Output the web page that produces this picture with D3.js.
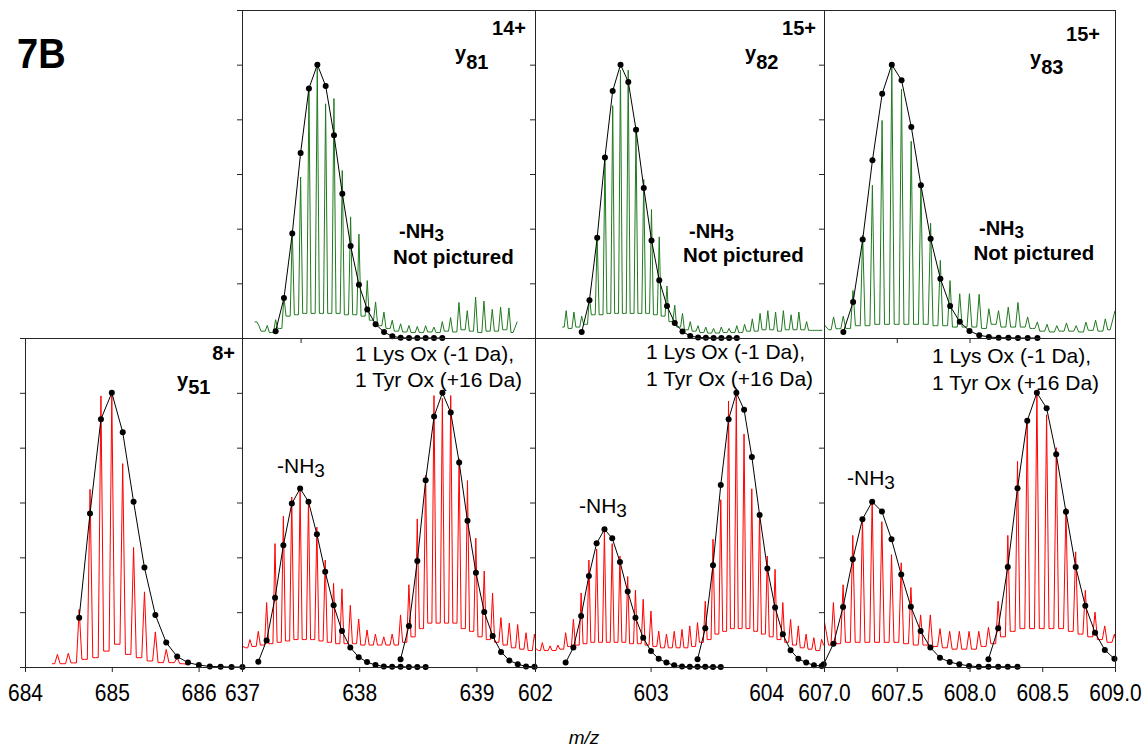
<!DOCTYPE html>
<html>
<head>
<meta charset="utf-8">
<script src="https://cdn.jsdelivr.net/npm/d3@7"></script>
<style>
  body { margin: 0; background: #fff; }
  svg { display: block; }
  text { font-family: "Liberation Sans", Arial, sans-serif; }
</style>
</head>
<body>
<svg id="chart" width="1145" height="750"></svg>
<script>
// Intensities are % of the most abundant isotope peak.
// Envelopes: theoretical isotope distributions (black dots).
// Traces: measured profile spectra, sampled at half the isotope spacing
// (alternating isotope-peak apex and inter-peak valley).

// ---- y51 8+ ----
const y51EnvMz = [684.624, 684.749, 684.875, 685.000, 685.126, 685.251, 685.376, 685.502, 685.627, 685.753, 685.878, 686.003, 686.129, 686.254, 686.380, 686.505];
const y51EnvInt = [18.0, 56.0, 90.4, 100, 85.6, 60.3, 36.3, 19.0, 8.9, 3.8, 1.6, 0.7, 0.2, 0.1, 0, 0];
const y51TraceStart = 684.3105, y51TraceStep = 0.0627;
const y51TraceInt = [1.2, 4.6, 1.2, 5.0, 1.5, 21, 2.8, 64.8, 3.4, 98.9, 5.8, 99, 8.3, 74.2, 4.6, 43.6, 3.4, 27.4, 2.2, 12.8, 1.6, 6.4, 1.6, 3.4, 1.2, 1.0];

// ---- y81 14+ ----
const y81EnvMz = [637.287, 637.358, 637.429, 637.500, 637.571, 637.643, 637.714, 637.785, 637.856, 637.927, 637.998, 638.069, 638.140, 638.212, 638.283, 638.354, 638.425, 638.496, 638.567, 638.638, 638.709];
const y81EnvInt = [2.5, 14.6, 38.2, 67.7, 91.3, 100, 92.2, 74.2, 52.8, 33.7, 19.5, 10.4, 5.0, 2.2, 0.6, 0.1, 0, 0, 0, 0, 0];
const y81TraceStart = 637.109, y81TraceStep = 0.03555;
const y81TraceInt = [5.9, 4.5, 2.5, 4.6, 2.0, 6.7, 3.5, 15, 8, 39.4, 8.5, 58.9, 9, 90.6, 9, 99.5, 9, 85.7, 9, 87.6, 9, 61.3, 8.5, 44.3, 8.5, 38, 8, 21, 6.5, 13.2, 4.5, 9.5, 3.5, 6.5, 2.5, 5.2, 2.2, 4.6, 2, 4.2, 2, 4.5, 2.2, 4, 2, 6, 2.5, 7.5, 2.2, 13, 3, 10, 2.5, 15, 2, 13.5, 2.5, 10.5, 2.5, 11.3, 3, 11, 2, 6];

// ---- y82 15+ ----
const y82EnvMz = [602.404, 602.471, 602.538, 602.605, 602.672, 602.740, 602.807, 602.874, 602.941, 603.008, 603.075, 603.142, 603.209, 603.276, 603.343, 603.411, 603.478, 603.545, 603.612, 603.679, 603.746];
const y82EnvInt = [2.2, 13.8, 36.7, 66.0, 90.4, 100, 93.7, 76.2, 54.9, 35.7, 21.1, 11.7, 5.5, 2.4, 0.7, 0.2, 0.1, 0, 0, 0, 0];
const y82TraceStart = 602.236, y82TraceStep = 0.03355;
const y82TraceInt = [4, 10, 3.5, 9.5, 4, 8, 5, 15, 8.5, 37, 8.5, 66, 9, 85, 9, 98, 9, 98, 9, 76, 9, 58, 9, 47, 8.5, 37, 8, 19, 6, 12, 4, 9, 3, 6, 2.5, 4.5, 2, 4, 1.8, 3.5, 1.8, 4, 2, 3.5, 2, 4.5, 2, 5, 2.5, 7, 2.5, 9, 3, 10, 3, 9.5, 2.5, 10, 3, 8.5, 3, 9.5, 3, 6, 2.8, 2.8, 2.8, 2.8];

// ---- y83 15+ ----
const y83EnvMz = [607.133, 607.200, 607.266, 607.333, 607.400, 607.466, 607.533, 607.600, 607.666, 607.733, 607.800, 607.867, 607.933, 608.000, 608.067, 608.133, 608.200, 608.267, 608.333, 608.400, 608.467];
const y83EnvInt = [2.2, 13.2, 36.0, 65.0, 89.4, 100, 94.3, 77.2, 55.9, 36.3, 21.7, 11.7, 5.9, 2.6, 1.0, 0.4, 0.1, 0.1, 0, 0, 0];
const y83TraceStart = 606.999, y83TraceStep = 0.03335;
const y83TraceInt = [5, 3, 7.7, 3.4, 8, 3.5, 17.4, 4.5, 37.6, 4.5, 55.9, 5, 79.6, 5, 99.5, 5, 91, 5, 72, 5, 57, 5, 42, 4.5, 28.4, 4.5, 21, 4, 16.2, 4, 16.2, 4, 16, 3.5, 10.7, 5, 10, 4, 11.3, 4, 13, 4, 7.7, 3.5, 5.9, 2.5, 5, 2.2, 4.5, 2.5, 5.5, 2.5, 4.5, 2.2, 5.8, 2.8, 6.5, 2.5, 7, 3, 10];

// ---- y81 14+, 1 Lys Ox (-1 Da), 1 Tyr Ox (+16 Da), with -NH3 ----
const y81OxNh3EnvMz = [637.139, 637.210, 637.282, 637.353, 637.425, 637.496, 637.567, 637.639, 637.710, 637.782, 637.853, 637.924, 637.996, 638.067, 638.139, 638.210, 638.281, 638.353, 638.424, 638.496, 638.567];
const y81OxNh3EnvInt = [1.9, 9.7, 25.3, 44.4, 59.6, 65.1, 60.3, 48.4, 34.7, 22.5, 13.1, 7.1, 3.6, 1.8, 0.7, 0.2, 0.1, 0.1, 0, 0, 0];
const y81OxEnvMz = [638.353, 638.424, 638.496, 638.567, 638.639, 638.710, 638.781, 638.853, 638.924, 638.996, 639.067, 639.139, 639.210, 639.281, 639.353, 639.424, 639.496];
const y81OxEnvInt = [2.8, 15.0, 38.7, 68.1, 91.4, 100, 92.8, 74.6, 53.3, 34.4, 20.1, 11.3, 5.5, 2.4, 1.0, 0.2, 0.1];
const y81OxTraceStart = 636.996, y81OxTraceStep = 0.0357;
const y81OxTraceInt = [7.7, 7, 10, 7.5, 13, 8, 23.5, 8.5, 45, 9, 55, 9.5, 62, 10, 64, 10, 61, 10, 51, 9.5, 39, 9, 30.5, 8.5, 28.5, 8.5, 22.5, 8.5, 17.5, 8, 13.5, 8, 12, 8, 11, 8, 12, 8, 19, 9, 30, 11, 54, 14, 70, 16, 99, 16, 98, 16, 99, 16, 76, 14, 68, 13, 47, 11, 35, 10, 27, 9, 18, 8, 16, 7, 15.5, 6.5, 12.5, 6, 12, 7];

// ---- y82 15+, oxidised, with -NH3 ----
const y82OxNh3EnvMz = [602.265, 602.332, 602.399, 602.466, 602.533, 602.601, 602.668, 602.735, 602.802, 602.869, 602.936, 603.003, 603.070, 603.137, 603.204, 603.272, 603.339, 603.406, 603.473, 603.540, 603.607];
const y82OxNh3EnvInt = [1.6, 7.1, 18.6, 33.2, 45.1, 50.2, 47.0, 38.3, 27.5, 18.0, 10.7, 5.8, 3.0, 1.6, 0.6, 0.2, 0.1, 0.1, 0.1, 0, 0];
const y82OxEnvMz = [603.406, 603.473, 603.540, 603.607, 603.675, 603.742, 603.809, 603.876, 603.943, 604.010, 604.077, 604.144, 604.211, 604.278, 604.346, 604.413, 604.480];
const y82OxEnvInt = [2.8, 14.1, 37.1, 66.4, 90.4, 100, 93.8, 76.6, 55.4, 35.9, 21.7, 11.9, 6.1, 3.0, 1.6, 0.6, 0.4];
const y82OxTraceStart = 601.9966, y82OxTraceStep = 0.03355;
const y82OxTraceInt = [7, 6, 8.9, 6, 7.7, 6, 8, 6.5, 12.5, 7.5, 17.4, 8, 27, 8.5, 39, 9, 43, 9, 49.6, 9, 45, 9, 40.5, 9, 33, 8.5, 28, 8.5, 24.7, 8, 20.4, 7.5, 13.1, 7, 12, 7, 13, 7, 13.7, 7, 15, 7.5, 16.2, 9, 24, 10, 46.6, 12, 61, 13, 97, 14, 99, 14, 85, 14, 65, 13, 55.7, 12, 40.5, 11, 35.6, 10, 23.5, 9, 17.4, 8, 15, 7, 12, 6.5, 10.7, 6, 10.1, 8];

// ---- y83 15+, oxidised, with -NH3 ----
const y83OxNh3EnvMz = [606.998, 607.065, 607.131, 607.198, 607.264, 607.331, 607.398, 607.464, 607.531, 607.597, 607.664, 607.731, 607.797, 607.864, 607.930, 607.997, 608.064, 608.130, 608.197, 608.263, 608.330];
const y83OxNh3EnvInt = [1.0, 8.5, 21.9, 39.3, 53.9, 60.3, 56.7, 46.6, 33.7, 22.0, 13.1, 7.1, 3.4, 1.8, 1.0, 0.4, 0.1, 0.1, 0.1, 0.1, 0.1];
const y83OxEnvMz = [608.130, 608.197, 608.263, 608.330, 608.397, 608.463, 608.530, 608.596, 608.663, 608.730, 608.796, 608.863, 608.930, 608.996];
const y83OxEnvInt = [2.8, 14.1, 36.5, 65.2, 89.8, 100, 94.4, 77.6, 56.6, 36.5, 22.3, 12.5, 6.2, 3.0];
const y83OxTraceStart = 606.998, y83OxTraceStep = 0.0333;
const y83OxTraceInt = [18, 8, 23.5, 8.5, 30, 9, 48, 9, 54, 9, 61, 9, 53, 9, 41, 9, 38, 8.5, 29, 8, 19, 8, 19, 7.5, 14, 7, 13, 6.5, 13, 6.5, 13, 6.5, 13, 7.5, 14.5, 8.5, 24, 11, 48, 13, 75, 14, 89, 14, 100, 14, 92, 14, 80, 14, 58, 13, 42, 12, 28, 11, 20, 10, 15, 9, 12, 8];

// Axis ticks
const yTickValues = [0, 20, 40, 60, 80, 100, 120];
const y81XTicks = [637.5];
const y82XTicks = [];
const y83XTicks = [607.5, 608.0];
const y51XTicks = [684, 685, 686];
const y81OxXTicks = [637, 638, 639];
const y82OxXTicks = [602, 603, 604];
const y83OxXTicks = [607.0, 607.5, 608.0, 608.5, 609.0];

// ---------------------------------------------------------------
const svg = d3.select('#chart');
const rows = { top: [10, 338], bottom: [338, 667] };
const frameColor = '#262626';
const green = '#1f7a1f', red = '#ff0000';

// trace: [start m/z, sample step, intensities, index of first apex sample]
const panels = [
  { row: 'top', x: [242, 535], domain: [637, 639.5], xTicks: y81XTicks, fmt: null, color: green,
    trace: [y81TraceStart, y81TraceStep, y81TraceInt, 1], envs: [[y81EnvMz, y81EnvInt]] },
  { row: 'top', x: [535, 824], domain: [602, 604.5], xTicks: y82XTicks, fmt: null, color: green,
    trace: [y82TraceStart, y82TraceStep, y82TraceInt, 1], envs: [[y82EnvMz, y82EnvInt]] },
  { row: 'top', x: [824, 1115], domain: [607, 609], xTicks: y83XTicks, fmt: null, color: green,
    trace: [y83TraceStart, y83TraceStep, y83TraceInt, 0], envs: [[y83EnvMz, y83EnvInt]] },
  { row: 'bottom', x: [25, 242], domain: [684, 686.5], xTicks: y51XTicks, fmt: d3.format('d'), color: red,
    trace: [y51TraceStart, y51TraceStep, y51TraceInt, 1], envs: [[y51EnvMz, y51EnvInt]] },
  { row: 'bottom', x: [242, 535], domain: [637, 639.5], xTicks: y81OxXTicks, fmt: d3.format('d'), color: red,
    trace: [y81OxTraceStart, y81OxTraceStep, y81OxTraceInt, 0], envs: [[y81OxNh3EnvMz, y81OxNh3EnvInt], [y81OxEnvMz, y81OxEnvInt]] },
  { row: 'bottom', x: [535, 824], domain: [602, 604.5], xTicks: y82OxXTicks, fmt: d3.format('d'), color: red,
    trace: [y82OxTraceStart, y82OxTraceStep, y82OxTraceInt, 0], envs: [[y82OxNh3EnvMz, y82OxNh3EnvInt], [y82OxEnvMz, y82OxEnvInt]] },
  { row: 'bottom', x: [824, 1115], domain: [607, 609], xTicks: y83OxXTicks, fmt: d3.format('.1f'), color: red,
    trace: [y83OxTraceStart, y83OxTraceStep, y83OxTraceInt, 0], envs: [[y83OxNh3EnvMz, y83OxNh3EnvInt], [y83OxEnvMz, y83OxEnvInt]] }
];

// Profile path: each isotope apex is drawn as a narrow spike whose feet
// (a quarter of the isotope spacing away) sit at the neighbouring valley level.
function profilePoints(start, step, vals, firstPeak) {
  const pts = [];
  vals.forEach((v, j) => {
    const m = start + j * step;
    const isPeak = (j - firstPeak) % 2 === 0;
    if (isPeak && j > 0 && j < vals.length - 1) {
      pts.push([m - step / 2, vals[j - 1]]);
      pts.push([m, v]);
      pts.push([m + step / 2, vals[j + 1]]);
    } else {
      pts.push([m, v]);
    }
  });
  return pts;
}

const defs = svg.append('defs');

panels.forEach((p, i) => {
  const [y0, y1] = rows[p.row];
  const x = d3.scaleLinear().domain(p.domain).range(p.x);
  const y = d3.scaleLinear().domain([0, 120]).range([y1, y0]);
  const g = svg.append('g');

  defs.append('clipPath').attr('id', 'clip' + i)
    .append('rect').attr('x', p.x[0]).attr('y', y0)
    .attr('width', p.x[1] - p.x[0]).attr('height', y1 - y0);

  const line = d3.line().x(d => x(d[0])).y(d => y(d[1]));

  // measured profile
  g.append('path').datum(profilePoints(...p.trace))
    .attr('clip-path', `url(#clip${i})`)
    .attr('fill', 'none').attr('stroke', p.color).attr('stroke-width', 1)
    .attr('stroke-linejoin', 'round')
    .attr('d', line);

  // theoretical isotope envelopes
  p.envs.forEach(([mz, inten]) => {
    const pts = mz.map((m, j) => [m, inten[j]]);
    g.append('path').datum(pts)
      .attr('fill', 'none').attr('stroke', '#000').attr('stroke-width', 1)
      .attr('d', line);
    g.selectAll(null).data(pts).enter().append('circle')
      .attr('cx', d => x(d[0])).attr('cy', d => y(d[1]))
      .attr('r', 3).attr('fill', '#000');
  });

  // frame
  g.append('rect')
    .attr('x', p.x[0] + 0.5).attr('y', y0 + 0.5)
    .attr('width', p.x[1] - p.x[0]).attr('height', y1 - y0)
    .attr('fill', 'none').attr('stroke', frameColor).attr('stroke-width', 1);

  // y axis (unlabelled ticks)
  const ya = g.append('g').attr('transform', `translate(${p.x[0]},0)`)
    .call(d3.axisLeft(y).tickValues(yTickValues).tickSize(5).tickSizeOuter(0).tickFormat(''));
  ya.select('.domain').remove();
  ya.attr('color', frameColor);

  // x axis
  const xa = g.append('g').attr('transform', `translate(0,${y1})`)
    .call(d3.axisBottom(x).tickValues(p.xTicks).tickSize(5).tickSizeOuter(0)
      .tickFormat(p.fmt ? p.fmt : ''));
  xa.select('.domain').remove();
  xa.attr('color', frameColor)
    .attr('font-family', '"Liberation Sans", Arial, sans-serif')
    .attr('font-size', 21);
  xa.selectAll('.tick text')
    .attr('y', null).attr('dy', null)
    .attr('fill', '#000')
    .attr('transform', 'translate(0,34) scale(1,1.17)');
});

// ---------------------------------------------------------------
// Annotations
function rich(x, y, parts, opts) {
  const t = svg.append('text').attr('x', x).attr('y', y)
    .attr('font-size', opts.size).attr('font-weight', opts.weight || 'normal')
    .attr('fill', '#000');
  if (opts.anchor) t.attr('text-anchor', opts.anchor);
  parts.forEach(pt => {
    const s = t.append('tspan').text(pt.t);
    if (pt.dy) s.attr('dy', pt.dy);
    if (pt.size) s.attr('font-size', pt.size);
  });
  return t;
}

svg.append('text').attr('transform', 'translate(17,68) scale(1,1.14)')
  .attr('font-size', 38).attr('font-weight', 'bold').text('7B');

// top row
rich(526, 35, [{ t: '14+' }], { size: 20, weight: 'bold', anchor: 'end' });
rich(455, 59.5, [{ t: 'y' }, { t: '81', dy: 9 }], { size: 20, weight: 'bold' });
rich(399, 238, [{ t: '-NH' }, { t: '3', dy: 3, size: 17 }], { size: 20, weight: 'bold' });
rich(393, 264, [{ t: 'Not pictured' }], { size: 20.5, weight: 'bold' });

rich(816, 35, [{ t: '15+' }], { size: 20, weight: 'bold', anchor: 'end' });
rich(745, 60, [{ t: 'y' }, { t: '82', dy: 9 }], { size: 20, weight: 'bold' });
rich(689, 237.5, [{ t: '-NH' }, { t: '3', dy: 3, size: 17 }], { size: 20, weight: 'bold' });
rich(683, 262, [{ t: 'Not pictured' }], { size: 20.5, weight: 'bold' });

rich(1100, 41, [{ t: '15+' }], { size: 20, weight: 'bold', anchor: 'end' });
rich(1030, 65, [{ t: 'y' }, { t: '83', dy: 9 }], { size: 20, weight: 'bold' });
rich(979, 235, [{ t: '-NH' }, { t: '3', dy: 3, size: 17 }], { size: 20, weight: 'bold' });
rich(973.5, 260, [{ t: 'Not pictured' }], { size: 20.5, weight: 'bold' });

// bottom row
rich(235, 360, [{ t: '8+' }], { size: 20, weight: 'bold', anchor: 'end' });
rich(177, 387, [{ t: 'y' }, { t: '51', dy: 7 }], { size: 20, weight: 'bold' });

const modLines = ['1 Lys Ox (-1 Da),', '1 Tyr Ox (+16 Da)'];
[[355, 360.7, 387.3], [646, 359, 386], [932, 362.5, 390]].forEach(([x0, b1, b2]) => {
  rich(x0, b1, [{ t: modLines[0] }], { size: 21 });
  rich(x0, b2, [{ t: modLines[1] }], { size: 21 });
});
rich(277, 472.5, [{ t: '-NH' }, { t: '3', dy: 4, size: 19 }], { size: 21 });
rich(579, 512.5, [{ t: '-NH' }, { t: '3', dy: 4, size: 19 }], { size: 21 });
rich(847, 484.5, [{ t: '-NH' }, { t: '3', dy: 4, size: 19 }], { size: 21 });

// axis title
svg.append('text').attr('x', 584).attr('y', 744).attr('text-anchor', 'middle')
  .attr('font-size', 19).attr('font-style', 'italic').text('m/z');
</script>
</body>
</html>
